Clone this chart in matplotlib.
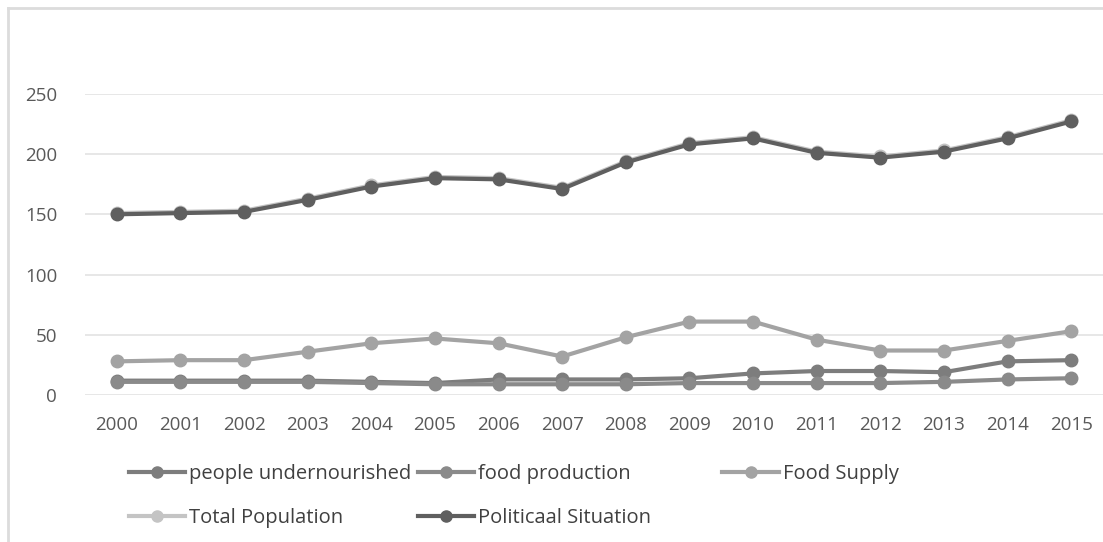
import numpy as np
import matplotlib
matplotlib.use("Agg")
from matplotlib import pyplot as plt
from matplotlib.lines import Line2D

years = [str(y) for y in range(2000, 2016)]

people_undernourished = [12, 12, 12, 12, 11, 10, 13, 13, 13, 14, 18, 20, 20, 19, 28, 29]
food_production = [11, 11, 11, 11, 10, 9, 9, 9, 9, 10, 10, 10, 10, 11, 13, 14]
food_supply = [28, 29, 29, 36, 43, 47, 43, 32, 48, 61, 61, 46, 37, 37, 45, 53]
total_population = [151, 152, 153, 163, 174, 181, 180, 172, 194, 209, 214, 202, 198, 203, 214, 228]
political_situation = [150, 151, 152, 162, 173, 180, 179, 171, 193, 208, 213, 201, 197, 202, 213, 227]

series = [
    ("people undernourished", people_undernourished, "#7d7d7d"),
    ("food production", food_production, "#8a8a8a"),
    ("Food Supply", food_supply, "#a3a3a3"),
    ("Total Population", total_population, "#c4c4c4"),
    ("Politicaal Situation", political_situation, "#5f5f5f"),
]

plt.rcParams['font.family'] = ['Open Sans', 'DejaVu Sans']

fig = plt.figure(figsize=(11.03, 5.42), dpi=100)
ax = fig.add_axes([0.077, 0.271, 0.923, 0.556])

x = np.arange(len(years))
handles = {}
for name, vals, col in series:
    ax.plot(x, vals, color=col, lw=3, marker="o", markersize=9,
            solid_capstyle="round", zorder=3)
    handles[name] = Line2D([0], [0], color=col, lw=3, marker="o",
                           markersize=8, label=name)

ax.set_xlim(-0.5, len(years) - 0.5)
ax.set_ylim(0, 250)
ax.set_yticks(range(0, 251, 50))
ax.set_xticks(x)
ax.set_xticklabels(years)
ax.grid(axis="y", color="#e3e3e3", lw=1.2)
ax.set_axisbelow(True)
for s in ax.spines.values():
    s.set_visible(False)
ax.tick_params(axis="both", length=0, labelsize=13.5, colors="#595959")
ax.tick_params(axis="x", pad=15)
ax.tick_params(axis="y", pad=20)

# legend: three fixed columns, like the excel layout
columns = [
    (0.117, ["people undernourished", "Total Population"]),
    (0.379, ["food production", "Politicaal Situation"]),
    (0.655, ["Food Supply"]),
]
for xpos, names in columns:
    leg = fig.legend(handles=[handles[n] for n in names], loc="upper left",
                     bbox_to_anchor=(xpos, 0.144), frameon=False, fontsize=14.5,
                     handlelength=2.8, handletextpad=0.2, labelspacing=1.2,
                     borderpad=0, borderaxespad=0, labelcolor="#404040")

# chart area border
fig.add_artist(Line2D([0.0075, 0.0075], [0.0, 0.985], color="#dcdcdc", lw=2,
                      transform=fig.transFigure))
fig.add_artist(Line2D([0.0075, 1.0], [0.985, 0.985], color="#dcdcdc", lw=2,
                      transform=fig.transFigure))

fig.savefig("out.png", dpi=100)
